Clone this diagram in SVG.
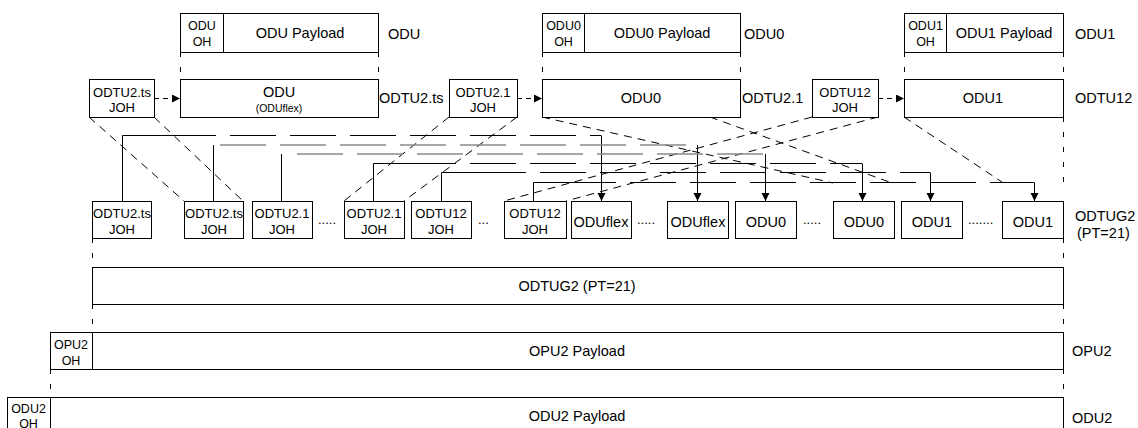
<svg xmlns="http://www.w3.org/2000/svg" width="1138" height="428" viewBox="0 0 1138 428">
<style>
.box{fill:#fff;stroke:#000;stroke-width:1}
.t{font-family:"Liberation Sans",Arial,sans-serif;fill:#000;font-size:14.5px}
.m{text-anchor:middle}
.s{font-size:13px}
.oh{font-size:12.5px}
.xs{font-size:10.5px}
.vd{stroke:#000;stroke-width:1;stroke-dasharray:5 10;fill:none}
.dd{stroke:#000;stroke-width:1;stroke-dasharray:8 6;fill:none}
.ar{stroke:#000;stroke-width:1;stroke-dasharray:5 4;fill:none}
.ld{stroke:#000;stroke-width:1;stroke-dasharray:46 14;fill:none}
.lg{stroke:#8a8a8a;stroke-width:1.5;stroke-dasharray:46 14;fill:none}
.dr{stroke:#000;stroke-width:1;fill:none}
</style>
<defs>
<marker id="ah" markerUnits="userSpaceOnUse" markerWidth="9" markerHeight="9" refX="8" refY="4" orient="auto">
<path d="M0,0 L8,4 L0,8 z" fill="#000"/>
</marker>
</defs>

<g id="connectors">
<path class="vd" d="M180.5,52 V79 M378.5,52 V79 M542.5,52 V79 M740.5,52 V79 M904.5,52 V79 M1063.5,52 V79"/>
<path class="ar" d="M154,98.5 H180" marker-end="url(#ah)"/>
<path class="ar" d="M517,98.5 H542" marker-end="url(#ah)"/>
<path class="ar" d="M878,98.5 H904" marker-end="url(#ah)"/>
<path class="dd" d="M89,117 L184,201 M154,117 L243,201"/>
<path class="dd" d="M449,117 L344,201 M517,117 L404,201"/>
<path class="dd" d="M812,117 L504,201 M878,117 L566,201"/>
<path class="dd" d="M542,117 L833,183 M710,117 L892,183"/>
<path class="dd" d="M904,117 L1002,182"/>
<path class="vd" d="M1063.5,117 V184"/>
<path class="dr" d="M122.5,201 V135.5 H170"/>
<path class="ld" d="M170,135.5 H601"/>
<path class="dr" d="M601.5,135.5 V201" marker-end="url(#ah)"/>
<path class="dr" d="M213.5,201 V145"/>
<path class="lg" d="M220,145 H697"/>
<path class="dr" d="M697.5,145 V201" marker-end="url(#ah)"/>
<path class="dr" d="M281.5,201 V154"/>
<path class="lg" d="M297,154 H765"/>
<path class="dr" d="M765.5,154 V201" marker-end="url(#ah)"/>
<path class="dr" d="M373.5,201 V163.5 H410"/>
<path class="ld" d="M410,163.5 H862"/>
<path class="dr" d="M862.5,163.5 V201" marker-end="url(#ah)"/>
<path class="dr" d="M441.5,201 V172.5 H480"/>
<path class="ld" d="M480,172.5 H930"/>
<path class="dr" d="M930.5,172.5 V201" marker-end="url(#ah)"/>
<path class="dr" d="M533.5,201 V182.5 H570"/>
<path class="ld" d="M570,182.5 H1034"/>
<path class="dr" d="M1034.5,182.5 V201" marker-end="url(#ah)"/>
<path class="vd" d="M92.5,238 V267 M1063.5,238 V267 M92.5,304 V332 M1063.5,304 V332 M50.5,369 V397 M1063.5,369 V397"/>
</g>

<g id="odu">
<rect class="box" x="180.5" y="13.5" width="198" height="39"/>
<line class="box" x1="223.5" y1="13.5" x2="223.5" y2="52.5"/>
<text class="t oh m" x="202" y="30">ODU</text>
<text class="t oh m" x="202" y="46">OH</text>
<text class="t m" x="300" y="38">ODU Payload</text>
<text class="t" x="388" y="39">ODU</text>
</g>
<g id="odu0">
<rect class="box" x="542.5" y="13.5" width="198" height="39"/>
<line class="box" x1="584.5" y1="13.5" x2="584.5" y2="52.5"/>
<text class="t oh m" x="563.5" y="30">ODU0</text>
<text class="t oh m" x="563.5" y="46">OH</text>
<text class="t m" x="662" y="38">ODU0 Payload</text>
<text class="t" x="744" y="39">ODU0</text>
</g>
<g id="odu1">
<rect class="box" x="904.5" y="13.5" width="159" height="39"/>
<line class="box" x1="946.5" y1="13.5" x2="946.5" y2="52.5"/>
<text class="t oh m" x="925.5" y="30">ODU1</text>
<text class="t oh m" x="925.5" y="46">OH</text>
<text class="t m" x="1004" y="38">ODU1 Payload</text>
<text class="t" x="1075" y="39">ODU1</text>
</g>

<g id="odtu2ts">
<rect class="box" x="89.5" y="79.5" width="65" height="38"/>
<text class="t s m" x="122" y="97">ODTU2.ts</text>
<text class="t s m" x="122" y="112">JOH</text>
<rect class="box" x="180.5" y="79.5" width="198" height="38"/>
<text class="t m" x="279" y="97">ODU</text>
<text class="t xs m" x="279" y="112">(ODUflex)</text>
<text class="t" x="379" y="103">ODTU2.ts</text>
</g>
<g id="odtu21">
<rect class="box" x="449.5" y="79.5" width="68" height="38"/>
<text class="t s m" x="483" y="97">ODTU2.1</text>
<text class="t s m" x="483" y="112">JOH</text>
<rect class="box" x="542.5" y="79.5" width="198" height="38"/>
<text class="t m" x="641" y="103">ODU0</text>
<text class="t" x="742" y="103">ODTU2.1</text>
</g>
<g id="odtu12">
<rect class="box" x="812.5" y="79.5" width="66" height="38"/>
<text class="t s m" x="845" y="97">ODTU12</text>
<text class="t s m" x="845" y="112">JOH</text>
<rect class="box" x="904.5" y="79.5" width="159" height="38"/>
<text class="t m" x="983" y="103">ODU1</text>
<text class="t" x="1075" y="103">ODTU12</text>
</g>

<g id="odtug2-slots">
<rect class="box" x="92.5" y="201.5" width="59" height="37"/>
<text class="t s m" x="122" y="218">ODTU2.ts</text>
<text class="t s m" x="122" y="234">JOH</text>
<rect class="box" x="184.5" y="201.5" width="59" height="37"/>
<text class="t s m" x="214" y="218">ODTU2.ts</text>
<text class="t s m" x="214" y="234">JOH</text>
<rect class="box" x="252.5" y="201.5" width="60" height="37"/>
<text class="t s m" x="282" y="218">ODTU2.1</text>
<text class="t s m" x="282" y="234">JOH</text>
<text class="t s" x="318" y="224">.....</text>
<rect class="box" x="344.5" y="201.5" width="60" height="37"/>
<text class="t s m" x="374" y="218">ODTU2.1</text>
<text class="t s m" x="374" y="234">JOH</text>
<rect class="box" x="411.5" y="201.5" width="60" height="37"/>
<text class="t s m" x="441" y="218">ODTU12</text>
<text class="t s m" x="441" y="234">JOH</text>
<text class="t s" x="478" y="224">...</text>
<rect class="box" x="504.5" y="201.5" width="62" height="37"/>
<text class="t s m" x="535" y="218">ODTU12</text>
<text class="t s m" x="535" y="234">JOH</text>
<rect class="box" x="571.5" y="201.5" width="60" height="37"/>
<text class="t m" x="601" y="227">ODUflex</text>
<text class="t s" x="637" y="224">.....</text>
<rect class="box" x="667.5" y="201.5" width="61" height="37"/>
<text class="t m" x="698" y="227">ODUflex</text>
<rect class="box" x="735.5" y="201.5" width="61" height="37"/>
<text class="t m" x="766" y="227">ODU0</text>
<text class="t s" x="803" y="224">.....</text>
<rect class="box" x="833.5" y="201.5" width="61" height="37"/>
<text class="t m" x="864" y="227">ODU0</text>
<rect class="box" x="901.5" y="201.5" width="61" height="37"/>
<text class="t m" x="932" y="227">ODU1</text>
<text class="t s" x="968" y="224">.......</text>
<rect class="box" x="1002.5" y="201.5" width="61" height="37"/>
<text class="t m" x="1033" y="227">ODU1</text>
<text class="t" x="1075" y="221">ODTUG2</text>
<text class="t" x="1077" y="238">(PT=21)</text>
</g>

<g id="odtug2">
<rect class="box" x="92.5" y="267.5" width="971" height="37"/>
<text class="t m" x="577" y="291">ODTUG2 (PT=21)</text>
</g>
<g id="opu2">
<rect class="box" x="50.5" y="332.5" width="1013" height="37"/>
<line class="box" x1="92.5" y1="332.5" x2="92.5" y2="369.5"/>
<text class="t oh m" x="71" y="349">OPU2</text>
<text class="t oh m" x="71" y="365">OH</text>
<text class="t m" x="577" y="356">OPU2 Payload</text>
<text class="t" x="1072" y="356">OPU2</text>
</g>
<g id="odu2">
<rect class="box" x="7.5" y="397.5" width="1056" height="40"/>
<line class="box" x1="50.5" y1="397.5" x2="50.5" y2="430"/>
<text class="t oh m" x="28.5" y="413">ODU2</text>
<text class="t oh m" x="28.5" y="428">OH</text>
<text class="t m" x="577" y="421">ODU2 Payload</text>
<text class="t" x="1072" y="423">ODU2</text>
</g>
</svg>
